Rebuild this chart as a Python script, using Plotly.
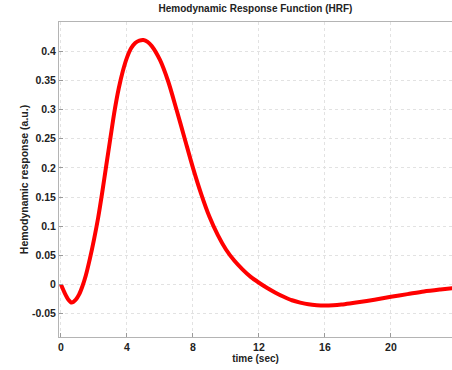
import plotly.graph_objects as go

# Time samples (sec) and HRF values (a.u.)
time_sec = [0.0, 0.25, 0.45, 0.65, 0.9, 1.1, 1.3, 1.5, 1.75, 2.0, 2.25, 2.5, 2.75,
            3.0, 3.25, 3.5, 3.75, 4.0, 4.25, 4.5, 4.75, 5.0, 5.25, 5.5, 6.0,
            6.5, 7.0, 7.5, 8.0, 8.5, 9.0, 9.5, 10.0, 10.5, 11.0, 11.5, 12.0, 12.5,
            13.0, 13.5, 14.0, 14.5, 15.0, 15.5, 16.0, 16.5, 17.0, 17.5, 18.0, 19.0,
            20.0, 21.0, 22.0, 23.0, 23.8]
hrf = [0.0, -0.016, -0.026, -0.031, -0.026, -0.017, -0.003, 0.015, 0.044, 0.077,
       0.114, 0.158, 0.205, 0.252, 0.298, 0.336, 0.366, 0.389, 0.405, 0.414, 0.418,
       0.419, 0.416, 0.409, 0.385, 0.348, 0.300, 0.250, 0.200, 0.155, 0.116,
       0.085, 0.060, 0.041, 0.026, 0.013, 0.003, -0.006, -0.014, -0.021, -0.027,
       -0.031, -0.034, -0.0355, -0.036, -0.0355, -0.0343, -0.0325, -0.0305, -0.026,
       -0.021, -0.0165, -0.012, -0.0085, -0.006]

x_ticks = [0, 4, 8, 12, 16, 20, 24]
y_ticks = [-0.05, 0, 0.05, 0.1, 0.15, 0.2, 0.25, 0.3, 0.35, 0.4]
y_tick_text = ["-0.05", "0", "0.05", "0.1", "0.15", "0.2", "0.25", "0.3", "0.35", "0.4"]

fig = go.Figure()
fig.add_trace(go.Scatter(
    x=time_sec, y=hrf, mode="lines",
    line=dict(color="#ff0000", width=4, shape="spline", smoothing=0.8),
    showlegend=False, hoverinfo="skip",
))

font_family = "Liberation Sans, Arial, sans-serif"
axis_common = dict(
    showline=True, linecolor="#b4b4b4", linewidth=1, mirror=True,
    ticks="inside", ticklen=4, tickcolor="#9a9a9a",
    showgrid=True, gridcolor="#e2e2e2", griddash="dot", gridwidth=1,
    zeroline=False,
    tickfont=dict(family=font_family, size=10.5, color="#222222", weight="bold"),
)

fig.update_layout(
    width=452, height=370,
    margin=dict(l=59, r=0, t=22, b=33),
    paper_bgcolor="white", plot_bgcolor="white",
    title=dict(text="<b>Hemodynamic Response Function (HRF)</b>",
               x=0.5, xref="paper", y=1, yref="container", yanchor="top", pad=dict(t=5),
               font=dict(family=font_family, size=10, color="#222222")),
    xaxis=dict(range=[-0.12, 23.7], tickvals=x_ticks,
               title=dict(text="<b>time (sec)</b>", standoff=3,
                          font=dict(family=font_family, size=10, color="#222222")),
               **axis_common),
    yaxis=dict(range=[-0.09, 0.45], tickvals=y_ticks, ticktext=y_tick_text,
               title=dict(text="<b>Hemodynamic response (a.u.)</b>", standoff=1,
                          font=dict(family=font_family, size=10.5, color="#222222")),
               **axis_common),
)

fig.write_html("out.html")
